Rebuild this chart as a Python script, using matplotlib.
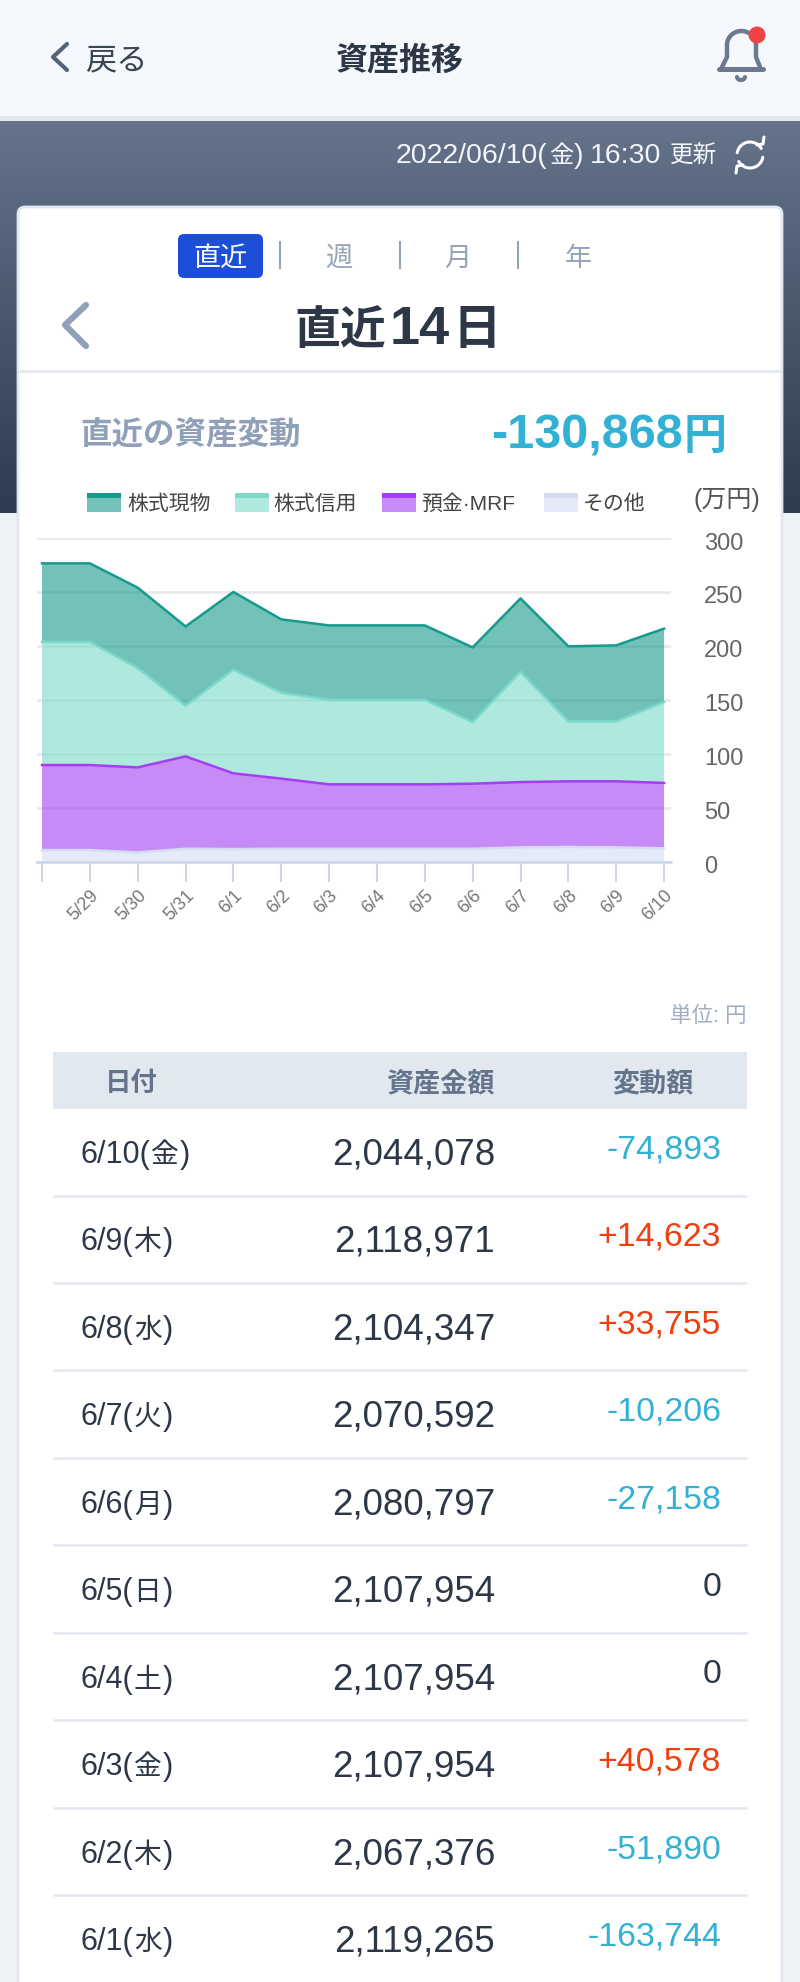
import numpy as np
import matplotlib
matplotlib.use("Agg")
import matplotlib.pyplot as plt
from matplotlib.patches import FancyBboxPatch, Rectangle, Circle
from matplotlib.transforms import ScaledTranslation

plt.rcParams['font.family'] = ['Liberation Sans', 'Noto Sans CJK JP', 'DejaVu Sans']

# chart values, 万円 per layer
days = ['', '5/29', '5/30', '5/31', '6/1', '6/2', '6/3', '6/4', '6/5', '6/6', '6/7', '6/8', '6/9', '6/10']
other = [10.8, 10.8, 8.6, 12, 11.7, 12, 12, 12, 12, 12, 13.3, 13.6, 13.3, 12.4]
deposit = [78.8, 78.8, 78.8, 85.6, 70.2, 65, 59.7, 59.7, 59.7, 60.3, 60.5, 60.9, 61.2, 60.6]
margin = [114, 114, 92.1, 47, 96.1, 79.6, 78.3, 78.3, 78.3, 57.1, 102.2, 55.5, 55.5, 75]
spot = [72.9, 72.9, 74.5, 73.4, 72, 68, 69, 69, 69, 69.2, 68, 69.6, 70.5, 68]
y_ticks = [0, 50, 100, 150, 200, 250, 300]

layer_names = ['株式現物', '株式信用', '預金·MRF', 'その他']
layer_colors = ['#169A8B', '#7ADACA', '#A33EF2', '#D2DDF2']

# table values
row_days = ['6/10', '6/9', '6/8', '6/7', '6/6', '6/5', '6/4', '6/3', '6/2', '6/1']
row_weekdays = ['金', '木', '水', '火', '月', '日', '土', '金', '木', '水']
row_assets = [2044078, 2118971, 2104347, 2070592, 2080797, 2107954, 2107954, 2107954, 2067376, 2119265]
row_changes = [-74893, 14623, 33755, -10206, -27158, 0, 0, 40578, -51890, -163744]

W, H = 800, 1983
DARK = '#2D3748'
SLATE = '#8FA0B8'
LINE = '#E2E8F0'
BLUE = '#32B1D4'
RED = '#F03E0E'

fig = plt.figure(figsize=(W / 100, H / 100), dpi=100, facecolor='#EDF2F7')
ui = fig.add_axes([0, 0, 1, 1])
ui.axis('off')
ui.set_xlim(0, W)
ui.set_ylim(H, 0)
ui.set_autoscale_on(False)


def label(x, y, s, size, color=DARK, ha='left', weight='normal'):
    ui.text(x, y, s, fontsize=size, color=color, ha=ha, va='center', fontweight=weight)


def runs(x, y, parts, color=DARK, ha='left', weight='normal'):
    # digits and kanji have different sizes in the app, so lay them out one by one
    rend = fig.canvas.get_renderer()
    texts, widths = [], []
    for s, size, gap in parts:
        t = ui.text(x, y, s, fontsize=size, color=color, ha='left', va='baseline', fontweight=weight)
        texts.append(t)
        widths.append(t.get_window_extent(rend).width + gap)
    total = sum(widths)
    pos = x - total if ha == 'right' else x - total / 2 if ha == 'center' else x
    for t, w in zip(texts, widths):
        t.set_x(pos)
        pos += w


def stroke(xs, ys, color, lw):
    ui.plot(xs, ys, color=color, lw=lw, solid_capstyle='round', solid_joinstyle='round')


def rule(x0, x1, y, color=LINE, lw=1.8):
    ui.plot([x0, x1], [y, y], color=color, lw=lw, solid_capstyle='butt')


# page background, header band
ui.add_patch(Rectangle((0, 0), W, 117, color='#F5F9FD', lw=0))
ui.add_patch(Rectangle((0, 117), W, 5, color=LINE, lw=0))
grad = np.linspace(0, 1, 256).reshape(-1, 1)
top_c, bot_c = np.array([0x65, 0x74, 0x8B]) / 255, np.array([0x2D, 0x3B, 0x50]) / 255
ui.imshow(top_c + (bot_c - top_c) * grad[..., None], extent=(0, W, 514, 122), aspect='auto')

stroke([67, 53, 67], [45, 58, 71], '#55637A', 3.0)
label(85, 61, '戻る', 22.5, '#3A4656')
label(400, 61, '資産推移', 23, DARK, ha='center', weight='bold')

# bell
t = np.linspace(np.pi, 0, 40)
bell_x = np.r_[722, 727, 727 + 14.5 * (1 + np.cos(t)), 756, 760]
bell_y = np.r_[68, 58, 46 - 14 * np.sin(t), 58, 68]
stroke(bell_x, bell_y, '#6B7A90', 3.2)
stroke([719, 763], [70, 70], '#6B7A90', 3.6)
t = np.linspace(np.pi, 0, 12)
stroke(741 + 4 * np.cos(t), 78 + 3 * np.sin(t), '#6B7A90', 3.0)
ui.add_patch(Circle((757, 36), 8.5, color='#EF4444', lw=0, zorder=5))

# update line
runs(717, 163, [('2022/06/10(', 20.5, 1), ('金', 17.5, 1), (')', 20.5, 7), ('16:30', 20.5, 8), ('更新', 17, 0)],
     '#F2F5F9', ha='right')
t = np.linspace(np.radians(30), np.radians(170), 30)
stroke(750 + 13 * np.cos(t), 156 - 13 * np.sin(t), 'white', 2.2)
stroke(750 + 13 * np.cos(t + np.pi), 156 - 13 * np.sin(t + np.pi), 'white', 2.2)
stroke([757, 763, 764], [146, 145, 138], 'white', 2.2)
stroke([743, 737, 736], [166, 167, 174], 'white', 2.2)

# card
ui.add_patch(FancyBboxPatch((18, 208), 764, 1900, boxstyle='round,pad=0,rounding_size=7',
                            fc='white', ec=LINE, lw=2))

# period tabs
ui.add_patch(FancyBboxPatch((178, 235), 85, 44, boxstyle='round,pad=0,rounding_size=6',
                            fc='#1D4ED8', ec='none'))
label(220.5, 259, '直近', 19.5, 'white', ha='center')
for sx in [280, 399.5, 518]:
    ui.plot([sx, sx], [243, 269], color='#94A3B8', lw=1.5)
for tx, s in zip([339, 458, 578], ['週', '月', '年']):
    label(tx, 259, s, 19.5, '#94A3B8', ha='center')

stroke([86, 65, 86], [306, 326, 347], SLATE, 4.5)
runs(398, 344, [('直近', 33, 3), ('14', 39, 3), ('日', 35, 0)], DARK, ha='center', weight='bold')
rule(19, 781, 372)

label(80, 436, '直近の資産変動', 22.7, SLATE, weight='bold')
runs(727, 449, [('-130,868', 35, 1), ('円', 31, 0)], BLUE, ha='right', weight='bold')

# legend
for sx, tx, name, col in zip([87, 235, 382, 544], [127, 273, 421, 583], layer_names, layer_colors):
    ui.add_patch(Rectangle((sx, 494), 34, 19, fc=col, alpha=0.6, lw=0))
    ui.add_patch(Rectangle((sx, 494), 34, 5, fc=col, lw=0))
    label(tx, 504, name, 15, '#444444')
label(727, 500, '(万円)', 18, '#555555', ha='center')

# table
label(746, 1017, '単位: 円', 15.5, '#A0AEC0', ha='right')
ui.add_patch(Rectangle((53, 1053), 694, 57, color=LINE, lw=0))
label(131, 1084, '日付', 19, '#64748B', ha='center', weight='bold')
label(495, 1084, '資産金額', 19.5, '#64748B', ha='right', weight='bold')
label(694, 1084, '変動額', 19.5, '#64748B', ha='right', weight='bold')

row_h = 87.45
for i, (d, wd, a, c) in enumerate(zip(row_days, row_weekdays, row_assets, row_changes)):
    y = 1154 + i * row_h
    runs(80, y + 9, [(d + '(', 22, 1), (wd, 20, 1), (')', 22, 0)], DARK)
    label(495, y + 1, f'{a:,}', 26.5, DARK, ha='right')
    col = RED if c > 0 else BLUE if c < 0 else DARK
    label(721, y - 4, f'{c:+,}' if c else '0', 24.4, col, ha='right')
    rule(53, 747, y + 42.5)

# stacked area chart
left, right, top, bottom = 37, 671, 539, 862.7
ax = fig.add_axes([left / W, 1 - bottom / H, (right - left) / W, (bottom - top) / H])
ax.patch.set_alpha(0)
x = np.arange(len(days))
step = 47.85
ax.set_xlim((left - 42) / step, (right - 42) / step)
ax.set_ylim(0, 300)
ax.stackplot(x, other, deposit, margin, spot, colors=layer_colors[::-1], alpha=0.6, lw=0, zorder=3)
cum = np.cumsum([other, deposit, margin, spot], axis=0)
for vals, col in zip(cum, layer_colors[::-1]):
    ax.plot(x, vals, color=col, lw=1.8, zorder=4)

for side in ['top', 'left', 'right']:
    ax.spines[side].set_visible(False)
ax.spines['bottom'].set_color('#CBD5E8')
ax.spines['bottom'].set_linewidth(1.8)
ax.yaxis.tick_right()
ax.set_yticks(y_ticks)
ax.tick_params(axis='y', length=0, pad=24, labelsize=17, labelcolor='#666666')
nudge = ScaledTranslation(0, -2 / 100, fig.dpi_scale_trans)
for tl in ax.get_yticklabels():
    tl.set_transform(tl.get_transform() + nudge)
ax.grid(axis='y', color='#E8E8E8', lw=1.8, zorder=0)
ax.set_axisbelow(True)
ax.set_xticks(x)
ax.set_xticklabels(days, rotation=45, ha='right', va='top', rotation_mode='anchor')
ax.tick_params(axis='x', length=14.5, width=1.4, color='#CBD5E8', labelsize=13,
               labelcolor='#777777', pad=3)

fig.savefig('out.png', dpi=100, facecolor=fig.get_facecolor())
